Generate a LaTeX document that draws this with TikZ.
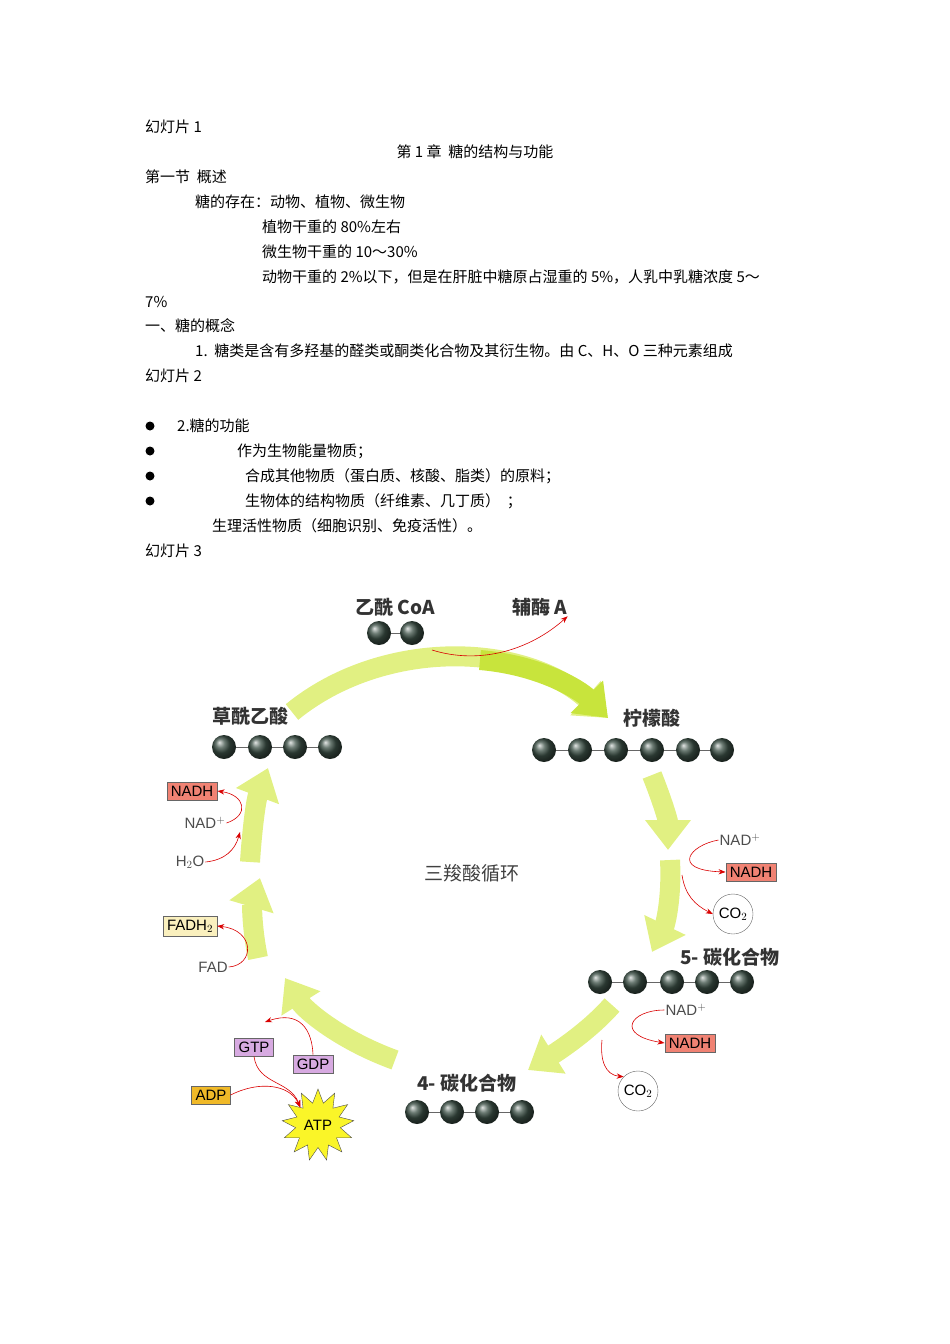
\documentclass[tikz,border=0pt]{standalone}
\usepackage{fontspec}
\setmainfont{Noto Sans CJK SC}
\newfontfamily\lat{Liberation Sans}
\usetikzlibrary{arrows.meta,shapes.geometric}
\definecolor{cyc}{RGB}{200,228,60}
\definecolor{cycl}{RGB}{225,240,130}
\definecolor{ballc}{RGB}{60,80,70}
\definecolor{nadh}{RGB}{240,130,115}
\definecolor{fad}{RGB}{250,240,190}
\definecolor{gtp}{RGB}{215,170,225}
\definecolor{adp}{RGB}{240,185,40}
\definecolor{atp}{RGB}{250,245,40}
\begin{document}
\begin{tikzpicture}[x=1pt,y=-1pt,
 txt/.style={anchor=west,inner sep=0,font=\fontsize{15}{17}\selectfont},
 lab/.style={inner sep=0,font=\fontsize{19}{21}\selectfont\bfseries,text=black!80},
 ball/.style={circle,minimum size=24,inner sep=0,shading=ball,ball color=ballc},
 bx/.style={draw=black!60,inner sep=4,font=\lat\fontsize{15}{17}\selectfont},
 sm/.style={inner sep=1,font=\lat\fontsize{15}{17}\selectfont,text=black!70},
 ra/.style={red!85!black,semithick,-{Stealth[length=7]}},
 big/.style={line width=20,draw=cyc,-{Triangle[width=44,length=30]}},
 bigl/.style={line width=20,draw=cycl,-{Triangle[width=44,length=30]}}]
\useasboundingbox (0,0) rectangle (950,1344);
% text
\node[txt] (t1) at (145,127) {幻灯片 1};
\node[inner sep=0,font=\fontsize{15}{17}\selectfont] (t2) at (475,152) {第 1 章\ \ 糖的结构与功能};
\node[txt] (t3) at (145,177) {第一节\ \ 概述};
\node[txt] (t4) at (195,202) {糖的存在：动物、植物、微生物};
\node[txt] (t5) at (262,227) {植物干重的 80\%左右};
\node[txt] (t6) at (262,252) {微生物干重的 10～30\%};
\node[txt] (t7) at (262,277) {动物干重的 2\%以下，但是在肝脏中糖原占湿重的 5\%，人乳中乳糖浓度 5～};
\node[txt] (t8) at (145,302) {7\%};
\node[txt] (t9) at (145,326) {一、糖的概念};
\node[txt] (t10) at (195,351) {1.\ \ 糖类是含有多羟基的醛类或酮类化合物及其衍生物。由 C、H、O 三种元素组成};
\node[txt] (t11) at (145,376) {幻灯片 2};
\foreach \y in {426,451,476,501} \fill (150,\y) circle (4.5);
\node[txt] (b1) at (177,426) {2.糖的功能};
\node[txt] (b2) at (237,451) {作为生物能量物质；};
\node[txt] (b3) at (245,476) {合成其他物质（蛋白质、核酸、脂类）的原料；};
\node[txt] (b4) at (245,501) {生物体的结构物质（纤维素、几丁质）\ \ ；};
\node[txt] (b5) at (212,526) {生理活性物质（细胞识别、免疫活性）。};
\node[txt] (t12) at (145,551) {幻灯片 3};
% cycle arrows
\draw[bigl] (292,712) .. controls (380,640) and (520,640) .. (608,718);
\draw[big] (480,660) .. controls (540,665) and (580,690) .. (608,718);
\draw[bigl] (652,775) .. controls (662,800) and (668,820) .. (668,850);
\draw[bigl] (670,860) .. controls (672,900) and (665,925) .. (652,952);
\draw[bigl] (612,1005) .. controls (590,1030) and (560,1050) .. (528,1070);
\draw[bigl] (395,1060) .. controls (340,1040) and (305,1010) .. (285,978);
\draw[bigl] (258,958) .. controls (252,930) and (252,905) .. (260,878);
\draw[bigl] (250,862) .. controls (252,830) and (256,800) .. (268,768);
% molecules
\node[lab] (acoa) at (395,607) {乙酰 CoA};
\node[lab] (coa) at (540,607) {辅酶 A};
\foreach \x/\n in {379/a1,412/a2} \node[ball] (\n) at (\x,633) {};
\draw[thick,black!60] (a1)--(a2);
\draw[ra] (432,650) .. controls (480,665) and (530,650) .. (coa.south east);
\node[lab] (oaa) at (250,716) {草酰乙酸};
\draw[thick,black!60] (224,747)--(330,747);
\foreach \x in {224,260,295,330} \node[ball] at (\x,747) {};
\node[lab] (cit) at (652,718) {柠檬酸};
\draw[thick,black!60] (544,750)--(722,750);
\foreach \x in {544,580,616,652,688,722} \node[ball] at (\x,750) {};
\node[lab] (c5) at (730,957) {5- 碳化合物};
\draw[thick,black!60] (600,982)--(742,982);
\foreach \x in {600,635,672,707,742} \node[ball] at (\x,982) {};
\node[lab] (c4) at (467,1083) {4- 碳化合物};
\draw[thick,black!60] (417,1112)--(522,1112);
\foreach \x in {417,452,487,522} \node[ball] at (\x,1112) {};
\node[inner sep=0,font=\fontsize{19}{21}\selectfont,text=black!75] (tca) at (472,873) {三羧酸循环};
% left side
\node[bx,fill=nadh] (nadh1) at (192,791) {NADH};
\node[sm] (nad1) at (205,823) {NAD$^{+}$};
\node[sm] (h2o) at (190,862) {H$_2$O};
\draw[ra] (nad1.east) .. controls (250,815) and (245,795) .. (nadh1.east);
\draw[ra] (h2o.east) .. controls (225,860) and (235,850) .. (240,832);
\node[bx,fill=fad] (fadh) at (190,926) {FADH$_2$};
\node[sm] (fad) at (213,967) {FAD};
\draw[ra] (fad.east) .. controls (255,965) and (255,930) .. (fadh.east);
\node[bx,fill=gtp] (gtp) at (254,1047) {GTP};
\node[bx,fill=gtp] (gdp) at (313,1064) {GDP};
\node[bx,fill=adp] (adp) at (211,1095) {ADP};
\node[star,star points=13,star point ratio=1.6,minimum size=72,draw=black!70,fill=atp,inner sep=0,font=\lat\fontsize{15}{17}\selectfont] (atp) at (318,1125) {ATP};
\draw[ra] (gdp.north) .. controls (312,1030) and (300,1010) .. (265,1022);
\draw[ra] (gtp.south) .. controls (258,1085) and (290,1080) .. (atp.north west);
\draw[ra] (adp.east) .. controls (260,1080) and (290,1085) .. (atp.north west);
% right side
\node[sm] (nad2) at (740,840) {NAD$^{+}$};
\node[bx,fill=nadh] (nadh2) at (751,872) {NADH};
\node[circle,draw=black!60,fill=white,minimum size=40,inner sep=0,font=\lat\fontsize{15}{17}\selectfont] (co2a) at (733,914) {CO$_2$};
\draw[ra] (nad2.west) .. controls (690,845) and (670,870) .. (nadh2.west);
\draw[ra] (682,875) .. controls (685,895) and (695,905) .. (co2a.west);
\node[sm] (nad3) at (686,1010) {NAD$^{+}$};
\node[bx,fill=nadh] (nadh3) at (690,1043) {NADH};
\node[circle,draw=black!60,fill=white,minimum size=40,inner sep=0,font=\lat\fontsize{15}{17}\selectfont] (co2b) at (638,1091) {CO$_2$};
\draw[ra] (nad3.west) .. controls (630,1010) and (615,1035) .. (nadh3.west);
\draw[ra] (602,1040) .. controls (600,1060) and (605,1075) .. (co2b.north west);
\end{tikzpicture}
\end{document}
